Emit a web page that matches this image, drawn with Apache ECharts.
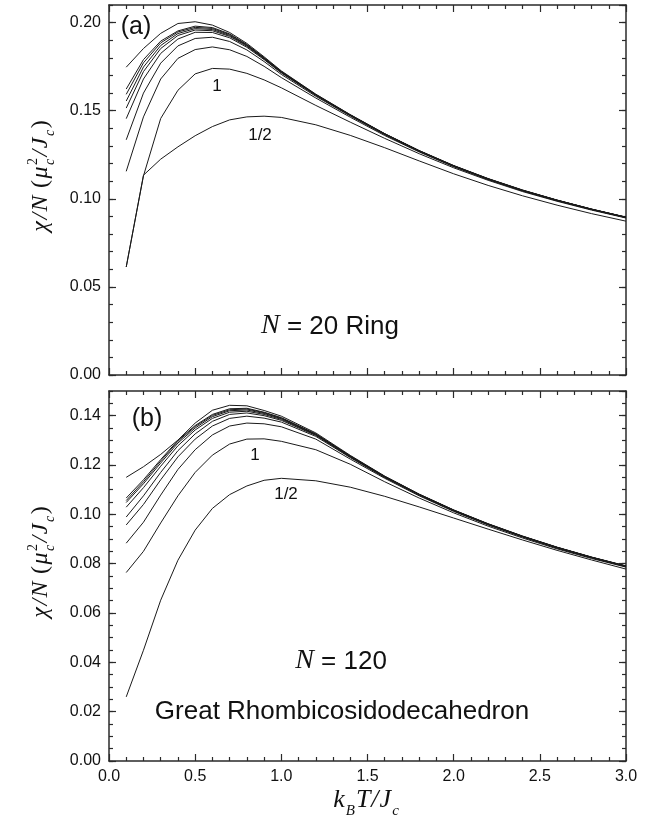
<!DOCTYPE html>
<html>
<head>
<meta charset="utf-8">
<script src="https://cdn.jsdelivr.net/npm/echarts@6/dist/echarts.min.js"></script>
<style>
  html, body { margin: 0; padding: 0; background: #fff; }
  #chart { width: 656px; height: 835px; }
</style>
</head>
<body>
<div id="chart"></div>
<script>
// Reduced temperature k_B T / J_c
const temps = [0.1, 0.2, 0.3, 0.4, 0.5, 0.6, 0.7, 0.8, 0.9, 1.0, 1.2, 1.4, 1.6, 1.8, 2.0, 2.2, 2.4, 2.6, 2.8, 3.0];

// (a) N = 20 ring, chi/N for each spin length and the classical limit
const ringS1_2 = [0.0613, 0.1134, 0.1225, 0.1295, 0.1358, 0.1410, 0.1448, 0.1465, 0.1469, 0.1462, 0.1420, 0.1360, 0.1290, 0.1215, 0.1142, 0.1076, 0.1017, 0.0964, 0.0916, 0.0873];
const ringS1   = [0.0613, 0.1130, 0.1456, 0.1616, 0.1709, 0.1740, 0.1736, 0.1712, 0.1675, 0.1630, 0.1530, 0.1435, 0.1343, 0.1256, 0.1176, 0.1105, 0.1041, 0.0986, 0.0936, 0.0891];
const ringS3_2 = [0.1156, 0.1465, 0.1680, 0.1797, 0.1847, 0.1862, 0.1846, 0.1808, 0.1752, 0.1688, 0.1572, 0.1463, 0.1359, 0.1266, 0.1182, 0.1109, 0.1045, 0.0989, 0.0939, 0.0893];
const ringS2   = [0.1335, 0.1600, 0.1770, 0.1868, 0.1910, 0.1917, 0.1893, 0.1845, 0.1779, 0.1706, 0.1582, 0.1470, 0.1364, 0.1269, 0.1185, 0.1111, 0.1046, 0.0990, 0.0940, 0.0894];
const ringS5_2 = [0.1455, 0.1680, 0.1825, 0.1907, 0.1945, 0.1944, 0.1914, 0.1860, 0.1790, 0.1714, 0.1587, 0.1473, 0.1366, 0.1271, 0.1186, 0.1112, 0.1047, 0.0991, 0.0940, 0.0894];
const ringS3   = [0.1515, 0.1722, 0.1853, 0.1927, 0.1958, 0.1954, 0.1922, 0.1866, 0.1794, 0.1717, 0.1589, 0.1474, 0.1367, 0.1271, 0.1186, 0.1112, 0.1047, 0.0991, 0.0940, 0.0895];
const ringS7_2 = [0.1555, 0.1748, 0.1870, 0.1938, 0.1966, 0.1961, 0.1927, 0.1870, 0.1797, 0.1720, 0.1590, 0.1475, 0.1368, 0.1272, 0.1187, 0.1113, 0.1048, 0.0992, 0.0941, 0.0895];
const ringS4   = [0.1593, 0.1772, 0.1885, 0.1947, 0.1973, 0.1967, 0.1932, 0.1873, 0.1799, 0.1721, 0.1591, 0.1476, 0.1368, 0.1272, 0.1187, 0.1113, 0.1048, 0.0992, 0.0941, 0.0895];
const ringS9_2 = [0.1623, 0.1790, 0.1895, 0.1953, 0.1980, 0.1972, 0.1936, 0.1876, 0.1801, 0.1723, 0.1592, 0.1476, 0.1369, 0.1273, 0.1188, 0.1114, 0.1049, 0.0992, 0.0941, 0.0896];
const ringClassical = [0.1747, 0.1853, 0.1939, 0.1995, 0.2005, 0.1986, 0.1944, 0.1882, 0.1806, 0.1726, 0.1594, 0.1478, 0.1370, 0.1274, 0.1189, 0.1115, 0.1050, 0.0993, 0.0942, 0.0896];

// (b) N = 120 great rhombicosidodecahedron
const grcS1_2 = [0.0260, 0.0449, 0.0652, 0.0814, 0.0936, 0.1024, 0.1080, 0.1115, 0.1138, 0.1146, 0.1136, 0.1110, 0.1073, 0.1030, 0.0985, 0.0940, 0.0896, 0.0854, 0.0815, 0.0778];
const grcS1   = [0.0764, 0.0850, 0.0965, 0.1075, 0.1170, 0.1240, 0.1285, 0.1305, 0.1306, 0.1296, 0.1262, 0.1203, 0.1132, 0.1066, 0.1006, 0.0952, 0.0904, 0.0860, 0.0821, 0.0786];
const grcS3_2 = [0.0883, 0.0968, 0.1078, 0.1182, 0.1262, 0.1322, 0.1358, 0.1370, 0.1367, 0.1355, 0.1305, 0.1224, 0.1146, 0.1075, 0.1012, 0.0957, 0.0908, 0.0863, 0.0824, 0.0788];
const grcS2   = [0.0957, 0.1040, 0.1140, 0.1233, 0.1305, 0.1358, 0.1389, 0.1398, 0.1390, 0.1374, 0.1316, 0.1230, 0.1149, 0.1078, 0.1014, 0.0958, 0.0909, 0.0864, 0.0825, 0.0789];
const grcS5_2 = [0.0989, 0.1075, 0.1170, 0.1258, 0.1326, 0.1377, 0.1405, 0.1411, 0.1400, 0.1381, 0.1320, 0.1232, 0.1151, 0.1079, 0.1015, 0.0959, 0.0910, 0.0865, 0.0825, 0.0789];
const grcS3   = [0.1029, 0.1108, 0.1195, 0.1278, 0.1342, 0.1389, 0.1414, 0.1418, 0.1405, 0.1385, 0.1322, 0.1234, 0.1152, 0.1080, 0.1016, 0.0960, 0.0910, 0.0865, 0.0825, 0.0789];
const grcS7_2 = [0.1048, 0.1124, 0.1208, 0.1289, 0.1350, 0.1396, 0.1420, 0.1423, 0.1409, 0.1388, 0.1324, 0.1235, 0.1153, 0.1080, 0.1016, 0.0960, 0.0910, 0.0866, 0.0826, 0.0790];
const grcS4   = [0.1056, 0.1132, 0.1216, 0.1296, 0.1356, 0.1401, 0.1424, 0.1427, 0.1412, 0.1390, 0.1325, 0.1236, 0.1153, 0.1081, 0.1017, 0.0961, 0.0911, 0.0866, 0.0826, 0.0790];
const grcS9_2 = [0.1066, 0.1140, 0.1222, 0.1300, 0.1360, 0.1405, 0.1428, 0.1430, 0.1414, 0.1392, 0.1326, 0.1237, 0.1154, 0.1081, 0.1017, 0.0961, 0.0911, 0.0866, 0.0826, 0.0790];
const grcClassical = [0.1150, 0.1193, 0.1243, 0.1301, 0.1370, 0.1422, 0.1442, 0.1440, 0.1421, 0.1398, 0.1330, 0.1239, 0.1155, 0.1082, 0.1018, 0.0962, 0.0912, 0.0867, 0.0827, 0.0791];

// Tick labels
const tempTickLabels = ['0.0', '0.5', '1.0', '1.5', '2.0', '2.5', '3.0'];
const ringTickLabels = ['0.00', '0.05', '0.10', '0.15', '0.20'];
const grcTickLabels = ['0.00', '0.02', '0.04', '0.06', '0.08', '0.10', '0.12', '0.14'];

const ringCurves = [ringS1_2, ringS1, ringS3_2, ringS2, ringS5_2, ringS3, ringS7_2, ringS4, ringS9_2, ringClassical];
const grcCurves = [grcS1_2, grcS1, grcS3_2, grcS2, grcS5_2, grcS3, grcS7_2, grcS4, grcS9_2, grcClassical];

const SANS = '"Liberation Sans", Arial, sans-serif';
const SERIF = '"Liberation Serif", "Times New Roman", serif';
const INK = '#111';
const FRAME = { color: '#2a2a2a', width: 1.5 };
const TICK = { color: '#2a2a2a', width: 1.2 };

const chart = echarts.init(document.getElementById('chart'), null, { renderer: 'canvas' });

const GRID_LEFT = 109, GRID_W = 517, GRID_H = 370;
const grids = [
  { left: GRID_LEFT, top: 5, width: GRID_W, height: GRID_H },
  { left: GRID_LEFT, top: 391, width: GRID_W, height: GRID_H }
];

function tempAxes(gridIndex, showLabels) {
  const base = {
    type: 'value', gridIndex, min: 0, max: 3, interval: 0.5,
    axisLine: { show: true, onZero: false, lineStyle: FRAME },
    axisTick: { show: true, inside: true, length: 7, lineStyle: TICK },
    minorTick: { show: true, splitNumber: 5, length: 4, lineStyle: TICK },
    splitLine: { show: false }, minorSplitLine: { show: false }
  };
  return [
    Object.assign({}, base, {
      position: 'bottom',
      axisLabel: {
        show: showLabels, margin: 8, color: INK, fontFamily: SANS, fontSize: 16,
        formatter: (v, i) => tempTickLabels[i] ?? ''
      }
    }),
    Object.assign({}, base, { position: 'top', axisLabel: { show: false } })
  ];
}

function chiAxes(gridIndex, max, major, minor, labels) {
  const common = { type: 'value', gridIndex, min: 0, max, splitLine: { show: false } };
  const majorTick = { show: true, inside: true, length: 7, lineStyle: TICK };
  const minorTickStyle = { show: true, inside: true, length: 4, lineStyle: TICK };
  return [
    Object.assign({}, common, {
      position: 'left', interval: major,
      axisLine: { show: true, onZero: false, lineStyle: FRAME },
      axisTick: majorTick,
      axisLabel: {
        show: true, showMaxLabel: false, margin: 8, color: INK, fontFamily: SANS, fontSize: 16,
        formatter: (v, i) => labels[i] ?? ''
      }
    }),
    Object.assign({}, common, {
      position: 'left', interval: minor,
      axisLine: { show: false, onZero: false }, axisTick: minorTickStyle, axisLabel: { show: false }
    }),
    Object.assign({}, common, {
      position: 'right', interval: major,
      axisLine: { show: true, onZero: false, lineStyle: FRAME }, axisTick: majorTick, axisLabel: { show: false }
    }),
    Object.assign({}, common, {
      position: 'right', interval: minor,
      axisLine: { show: false, onZero: false }, axisTick: minorTickStyle, axisLabel: { show: false }
    })
  ];
}

const xAxis = [].concat(tempAxes(0, false), tempAxes(1, true));
const yAxis = [].concat(
  chiAxes(0, 0.21, 0.05, 0.01, ringTickLabels),
  chiAxes(1, 0.15, 0.02, 0.005, grcTickLabels)
);

function curveSeries(curves, xIdx, yIdx) {
  return curves.map(ys => ({
    type: 'line',
    xAxisIndex: xIdx, yAxisIndex: yIdx,
    data: temps.map((t, i) => [t, ys[i]]),
    showSymbol: false, symbol: 'none', smooth: false,
    lineStyle: { color: '#1a1a1a', width: 1 },
    silent: true, z: 3
  }));
}

// Text helpers: a formula is a row of pieces sharing one baseline;
// a piece with sup/sub stacks both scripts at the same position.
const measure = document.createElement('canvas').getContext('2d');
function fontOf(p) { return `${p.style || 'normal'} ${p.size}px ${p.family}`; }
function widthOf(p) { measure.font = fontOf(p); return measure.measureText(p.text).width; }

function formula(pieces, cx, cy, baseSize, rotation, spacing) {
  const kids = [];
  const gap = spacing || 0;
  let x = 0;
  const put = (p, px) => {
    kids.push({
      type: 'text', x: px, y: 0.36 * baseSize + (p.shift || 0) - 0.34 * p.size,
      style: { text: p.text, font: fontOf(p), fill: INK, align: 'left', verticalAlign: 'middle' }
    });
    return widthOf(p);
  };
  pieces.forEach((p, i) => {
    if (p.sup) {
      const w1 = put(p.sup, x), w2 = put(p.sub, x);
      x += Math.max(w1, w2);
    } else {
      x += put(p, x);
    }
    if (i < pieces.length - 1) x += gap;
  });
  kids.forEach(k => { k.x -= x / 2; });
  return { type: 'group', x: cx, y: cy, rotation: rotation || 0, silent: true, children: kids };
}

function chiTitle(cx, cy) {
  return formula([
    { text: 'χ', style: 'italic', size: 24, family: SERIF },
    { text: '/', style: 'italic', size: 24, family: SERIF },
    { text: 'N', style: 'italic', size: 24, family: SERIF },
    { text: ' (', size: 24, family: SERIF },
    { text: 'μ', style: 'italic', size: 24, family: SERIF },
    { sup: { text: '2', size: 14, family: SERIF, shift: -11 },
      sub: { text: 'c', style: 'italic', size: 14, family: SERIF, shift: 6 } },
    { text: '/', style: 'italic', size: 24, family: SERIF },
    { text: 'J', style: 'italic', size: 24, family: SERIF },
    { text: 'c', style: 'italic', size: 14, family: SERIF, shift: 6 },
    { text: ')', size: 24, family: SERIF }
  ], cx, cy, 24, Math.PI / 2, 1.5);
}

function plainText(text, cx, cy, size) {
  return {
    type: 'text', x: cx, y: cy, silent: true,
    style: { text, font: `${size}px ${SANS}`, fill: INK, align: 'center', verticalAlign: 'middle' }
  };
}

const graphic = [
  chiTitle(40, 176),
  chiTitle(40, 562),
  formula([
    { text: 'k', style: 'italic', size: 26, family: SERIF },
    { text: 'B', style: 'italic', size: 15, family: SERIF, shift: 7 },
    { text: 'T', style: 'italic', size: 26, family: SERIF },
    { text: '/', style: 'italic', size: 26, family: SERIF },
    { text: 'J', style: 'italic', size: 26, family: SERIF },
    { text: 'c', style: 'italic', size: 15, family: SERIF, shift: 7 }
  ], 366, 800, 26, 0, 1),
  plainText('(a)', 136, 27, 25),
  plainText('(b)', 147, 419, 25),
  plainText('1', 217, 86, 17),
  plainText('1/2', 260, 135, 17),
  plainText('1', 255, 455, 17),
  plainText('1/2', 286, 494, 17),
  formula([
    { text: 'N', style: 'italic', size: 28, family: SERIF },
    { text: ' = 20 Ring', size: 26, family: SANS }
  ], 330, 326, 26),
  formula([
    { text: 'N', style: 'italic', size: 28, family: SERIF },
    { text: ' = 120', size: 26, family: SANS }
  ], 341, 661, 26),
  plainText('Great Rhombicosidodecahedron', 342, 712, 26)
];

chart.setOption({
  animation: false,
  backgroundColor: '#ffffff',
  grid: grids,
  xAxis,
  yAxis,
  series: [].concat(curveSeries(ringCurves, 0, 0), curveSeries(grcCurves, 2, 4)),
  graphic
});
</script>
</body>
</html>
